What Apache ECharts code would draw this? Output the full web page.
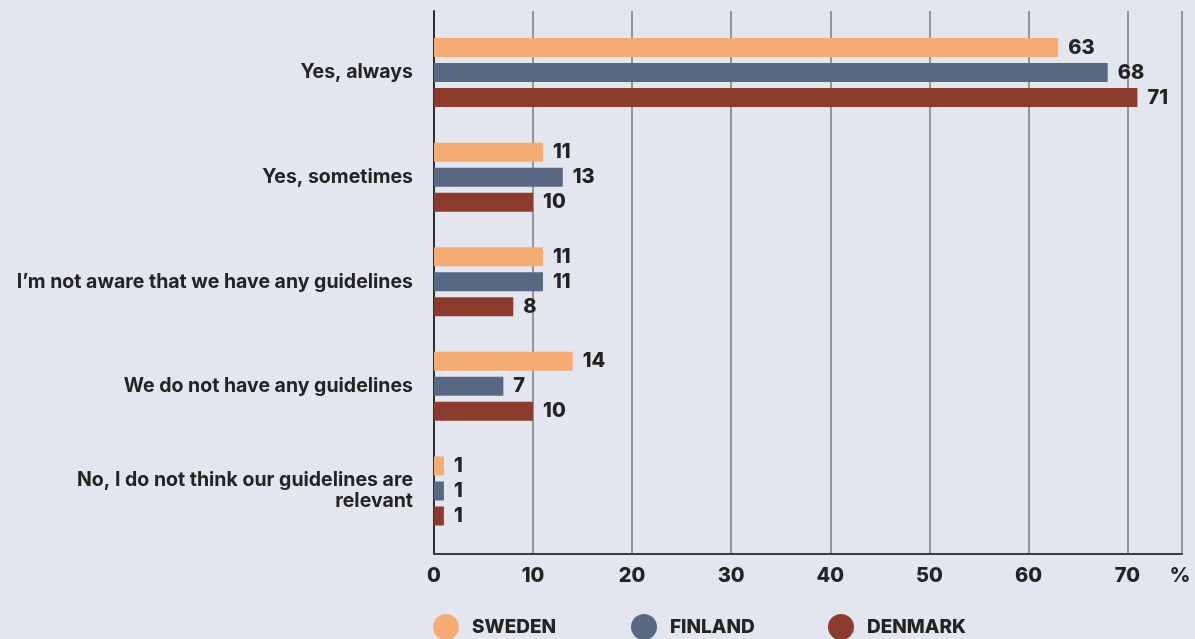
<!DOCTYPE html>
<html>
<head>
<meta charset="utf-8">
<script src="https://cdn.jsdelivr.net/npm/echarts@6/dist/echarts.min.js"></script>
<style>
  html, body { margin: 0; padding: 0; background: #e3e6ee; }
  #chart { width: 1195px; height: 639px; }
</style>
</head>
<body>
<div id="chart"></div>
<script>
// Survey answers, percent of respondents per country
const categories = [
  'Yes, always',
  'Yes, sometimes',
  'I\u2019m not aware that we have any guidelines',
  'We do not have any guidelines',
  'No, I do not think our guidelines are\nrelevant'
];
const sweden = [63, 11, 11, 14, 1];
const finland = [68, 13, 11, 7, 1];
const denmark = [71, 10, 8, 10, 1];
const seriesNames = ['SWEDEN', 'FINLAND', 'DENMARK'];
const axisUnit = '%';

const colors = ['#f4ab74', '#586883', '#8b3c2c'];
const FONT = 'Inter, "Noto Sans", sans-serif';
const TEXT = '#232323';
const X_MAX = 75.5;

const chart = echarts.init(document.getElementById('chart'), null, { renderer: 'canvas' });

const valueLabel = {
  show: true,
  position: 'right',
  distance: 10,
  color: TEXT,
  fontFamily: FONT,
  fontSize: 20,
  fontWeight: 800,
  padding: [5, 0, 0, 0]
};

function legendAt(left, idx) {
  return {
    left: left,
    top: 614,
    padding: 0,
    icon: 'circle',
    itemWidth: 26,
    itemHeight: 26,
    selectedMode: false,
    data: [seriesNames[idx]],
    textStyle: {
      color: TEXT,
      fontFamily: FONT,
      fontSize: 19,
      fontWeight: 800,
      padding: [3, 0, 0, 8]
    }
  };
}

chart.setOption({
  backgroundColor: '#e3e6ee',
  animation: false,
  color: colors,
  legend: [legendAt(433, 0), legendAt(631, 1), legendAt(828, 2)],
  grid: [
    // frame: gridlines, bottom value axis and left axis line
    { left: 434, right: 13, top: 11, bottom: 85.5 },
    // bars
    { left: 434, right: 13, top: 20.2, bottom: 95.7 }
  ],
  xAxis: [
    {
      type: 'value', gridIndex: 0, min: 0, max: X_MAX, interval: 10,
      name: axisUnit,
      nameLocation: 'end',
      nameGap: -2,
      nameTextStyle: {
        color: TEXT, fontFamily: FONT, fontSize: 20, fontWeight: 800,
        align: 'center', verticalAlign: 'top', padding: [12, 0, 0, 0]
      },
      axisLine: { show: true, lineStyle: { color: '#3d3d3d', width: 2 } },
      axisTick: { show: false },
      axisLabel: {
        color: TEXT, fontFamily: FONT, fontSize: 20, fontWeight: 800,
        margin: 12,
        showMaxLabel: false
      },
      splitLine: { show: true, lineStyle: { color: '#7a7a7a', width: 1.5 } }
    },
    {
      type: 'value', gridIndex: 1, min: 0, max: X_MAX, show: false
    }
  ],
  yAxis: [
    {
      type: 'value', gridIndex: 0, min: 0, max: 1,
      axisLine: { show: true, lineStyle: { color: '#2e2e2e', width: 2 } },
      axisTick: { show: false },
      axisLabel: { show: false },
      splitLine: { show: false }
    },
    {
      type: 'category', gridIndex: 1, inverse: true, data: categories,
      axisLine: { show: false },
      axisTick: { show: false },
      axisLabel: {
        color: TEXT, fontFamily: FONT, fontSize: 19.5, fontWeight: 700,
        margin: 21, lineHeight: 21, align: 'right', padding: [8, 0, 0, 0]
      }
    }
  ],
  series: [
    { name: seriesNames[0], type: 'bar', xAxisIndex: 1, yAxisIndex: 1, data: sweden,
      barWidth: 19, barGap: '31.6%', label: valueLabel },
    { name: seriesNames[1], type: 'bar', xAxisIndex: 1, yAxisIndex: 1, data: finland,
      barWidth: 19, barGap: '31.6%', label: valueLabel },
    { name: seriesNames[2], type: 'bar', xAxisIndex: 1, yAxisIndex: 1, data: denmark,
      barWidth: 19, barGap: '31.6%', label: valueLabel }
  ]
});
</script>
</body>
</html>
